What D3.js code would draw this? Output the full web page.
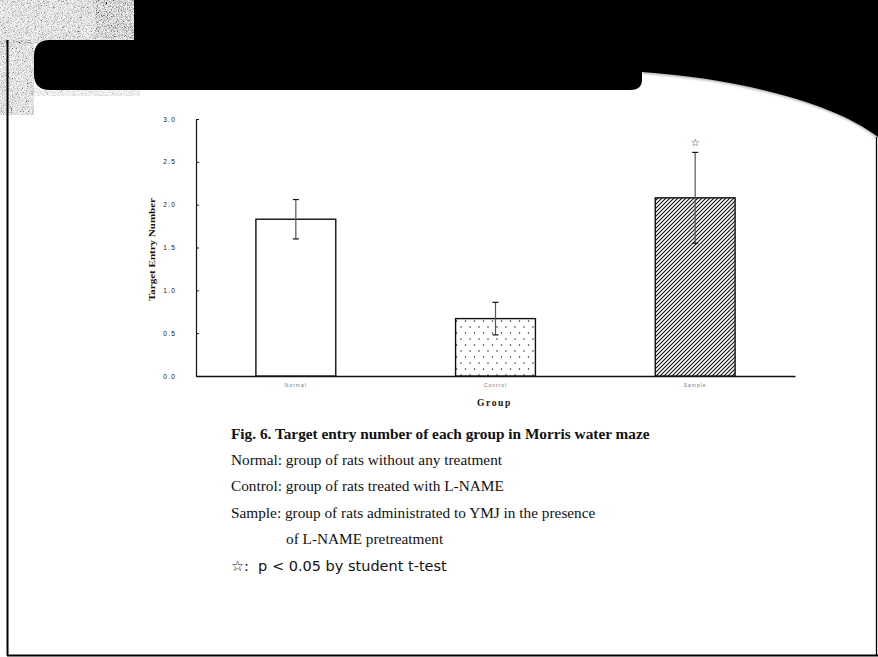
<!DOCTYPE html>
<html>
<head>
<meta charset="utf-8">
<script src="https://cdn.jsdelivr.net/npm/d3@7"></script>
<style>
  html, body { margin: 0; padding: 0; background: #fff; }
  svg { display: block; }
</style>
</head>
<body>
<svg id="chart" width="878" height="657"></svg>
<script>
// Target entry number per group (Morris water maze)
const categories = ["Normal", "Control", "Sample"];
const means = [1.83, 0.67, 2.08];
const errors = [0.23, 0.19, 0.53];
const significance = ["", "", "\u2606"];
const yTicks = [0, 0.5, 1.0, 1.5, 2.0, 2.5, 3.0];
const yTickLabels = ["0.0", "0.5", "1.0", "1.5", "2.0", "2.5", "3.0"];
const fills = ["plain", "dots", "hatch"];

const captionLines = [
  "Normal: group of rats without any treatment",
  "Control: group of rats treated with L-NAME",
  "Sample: group of rats administrated to YMJ in the presence",
  "of L-NAME pretreatment"
];

const W = 878, H = 657;
const svg = d3.select("#chart");
const defs = svg.append("defs");

// grainy grey texture for the slide corner
const grain = defs.append("filter").attr("id", "grain")
  .attr("x", 0).attr("y", 0).attr("width", "100%").attr("height", "100%");
grain.append("feTurbulence").attr("type", "fractalNoise")
  .attr("baseFrequency", 1.2).attr("numOctaves", 2).attr("seed", 4).attr("result", "n");
grain.append("feColorMatrix").attr("type", "saturate").attr("values", 0).attr("in", "n").attr("result", "g");
const ct = grain.append("feComponentTransfer").attr("in", "g").attr("result", "c");
ct.append("feFuncR").attr("type", "linear").attr("slope", 2.6).attr("intercept", -0.75);
ct.append("feFuncG").attr("type", "linear").attr("slope", 2.6).attr("intercept", -0.75);
ct.append("feFuncB").attr("type", "linear").attr("slope", 2.6).attr("intercept", -0.75);
grain.append("feComposite").attr("in", "c").attr("in2", "SourceGraphic").attr("operator", "in");

const soft = defs.append("filter").attr("id", "soft");
soft.append("feGaussianBlur").attr("stdDeviation", 1.2);

// dotted fill
const dots = defs.append("pattern").attr("id", "dots")
  .attr("patternUnits", "userSpaceOnUse").attr("width", 9).attr("height", 12);
dots.append("rect").attr("width", 9).attr("height", 12).attr("fill", "#fff");
dots.append("circle").attr("cx", 2).attr("cy", 3).attr("r", 0.75).attr("fill", "#222");
dots.append("circle").attr("cx", 6.5).attr("cy", 9).attr("r", 0.75).attr("fill", "#222");

// diagonal hatch fill
const hatch = defs.append("pattern").attr("id", "hatch")
  .attr("patternUnits", "userSpaceOnUse").attr("width", 4).attr("height", 4);
hatch.append("rect").attr("width", 4).attr("height", 4).attr("fill", "#fff");
hatch.append("path").attr("d", "M-1,1 l2,-2 M0,4 l4,-4 M3,5 l2,-2")
  .attr("stroke", "#111").attr("stroke-width", 1.1);

// ---- slide background decoration ----
const deco = svg.append("g");
deco.append("rect").attr("x", 0).attr("y", 0).attr("width", 140).attr("height", 44)
  .attr("fill", "#8c8c8c").attr("filter", "url(#grain)");
deco.append("rect").attr("x", 95).attr("y", 0).attr("width", 40).attr("height", 38)
  .attr("fill", "#d8d8d8").attr("filter", "url(#grain)");
deco.append("rect").attr("x", 0).attr("y", 40).attr("width", 34).attr("height", 75)
  .attr("fill", "#a8a8a8").attr("filter", "url(#grain)");
deco.append("rect").attr("x", 30).attr("y", 88).attr("width", 110).attr("height", 8)
  .attr("fill", "#cfcfcf").attr("filter", "url(#grain)").attr("opacity", 0.6);

const curve = "M878,137 C830,100 730,78 642,72";

// soft grey fringe along the curved white edge
deco.append("path")
  .attr("d", curve)
  .attr("fill", "none").attr("stroke", "#b0b0b0").attr("stroke-width", 3)
  .attr("filter", "url(#soft)");

// black banner
deco.append("path")
  .attr("d", "M134,0 H878 V137 C830,100 730,78 642,72 V80 Q642,90 630,90 H50 Q34,90 34,74 V56 Q34,40 50,40 H134 Z")
  .attr("fill", "#000");

// frame lines
deco.append("line").attr("x1", 7.5).attr("x2", 7.5).attr("y1", 40).attr("y2", 655.5)
  .attr("stroke", "#000").attr("stroke-width", 2);
deco.append("line").attr("x1", 7).attr("x2", 878).attr("y1", 655.5).attr("y2", 655.5)
  .attr("stroke", "#000").attr("stroke-width", 2);
deco.append("line").attr("x1", 876.5).attr("x2", 876.5).attr("y1", 137).attr("y2", 655)
  .attr("stroke", "#000").attr("stroke-width", 1.3);

// ---- chart ----
const plot = { left: 196, right: 795, top: 119, bottom: 376 };

const x = d3.scaleBand()
  .domain(categories)
  .range([plot.left, plot.right])
  .paddingInner(0.6)
  .paddingOuter(0.3);

const y = d3.scaleLinear()
  .domain([0, 3])
  .range([plot.bottom, plot.top]);

const g = svg.append("g");

// y axis
const yAxis = d3.axisLeft(y)
  .tickValues(yTicks)
  .tickFormat((d, i) => yTickLabels[i])
  .tickSizeInner(-3)
  .tickSizeOuter(0)
  .tickPadding(20);
const yg = g.append("g").attr("transform", `translate(${plot.left},0)`).call(yAxis);
yg.select(".domain").attr("stroke", "#111").attr("stroke-width", 1.2);
yg.selectAll(".tick line").attr("stroke", "#111");
yg.selectAll(".tick text")
  .attr("font-family", "Liberation Sans, Arial, sans-serif")
  .attr("font-size", 6.5).attr("letter-spacing", 1.2).attr("fill", "#111");

// x axis
const xAxis = d3.axisBottom(x).tickSize(0).tickSizeOuter(0).tickPadding(7);
const xg = g.append("g").attr("transform", `translate(0,${plot.bottom})`).call(xAxis);
xg.select(".domain").attr("stroke", "#111").attr("stroke-width", 1.5);
xg.selectAll(".tick text")
  .attr("font-family", "Liberation Sans, Arial, sans-serif")
  .attr("font-size", 5).attr("letter-spacing", 1).attr("fill", "#777");

// bars
g.selectAll("rect.bar")
  .data(categories)
  .join("rect")
  .attr("class", "bar")
  .attr("x", d => x(d))
  .attr("width", x.bandwidth())
  .attr("y", (d, i) => y(means[i]))
  .attr("height", (d, i) => y(0) - y(means[i]))
  .attr("fill", (d, i) => fills[i] === "plain" ? "#fff" : `url(#${fills[i]})`)
  .attr("stroke", "#111")
  .attr("stroke-width", 1.4);

// error bars
const eb = g.selectAll("g.err")
  .data(categories)
  .join("g")
  .attr("class", "err");
eb.append("line")
  .attr("x1", d => x(d) + x.bandwidth() / 2)
  .attr("x2", d => x(d) + x.bandwidth() / 2)
  .attr("y1", (d, i) => y(means[i] + errors[i]))
  .attr("y2", (d, i) => y(means[i] - errors[i]))
  .attr("stroke", "#555").attr("stroke-width", 1.2);
[1, -1].forEach(s => {
  eb.append("line")
    .attr("x1", d => x(d) + x.bandwidth() / 2 - 3)
    .attr("x2", d => x(d) + x.bandwidth() / 2 + 3)
    .attr("y1", (d, i) => y(means[i] + s * errors[i]))
    .attr("y2", (d, i) => y(means[i] + s * errors[i]))
    .attr("stroke", "#111").attr("stroke-width", 1.2);
});

// significance markers
g.selectAll("text.sig")
  .data(categories)
  .join("text")
  .attr("class", "sig")
  .attr("x", d => x(d) + x.bandwidth() / 2)
  .attr("y", (d, i) => y(means[i] + errors[i]) - 6)
  .attr("text-anchor", "middle")
  .attr("font-family", "DejaVu Sans, sans-serif")
  .attr("font-size", 10)
  .attr("font-weight", "bold")
  .attr("fill", "#111")
  .text((d, i) => significance[i]);

// axis titles
g.append("text")
  .attr("transform", `translate(155,${(plot.top + plot.bottom) / 2 + 2}) rotate(-90)`)
  .attr("text-anchor", "middle")
  .attr("font-family", "Liberation Serif, Times New Roman, serif")
  .attr("font-weight", "bold")
  .attr("font-size", 9)
  .attr("textLength", 103)
  .attr("lengthAdjust", "spacingAndGlyphs")
  .attr("fill", "#111")
  .text("Target Entry Number");

g.append("text")
  .attr("x", (plot.left + plot.right) / 2 - 1)
  .attr("y", 406)
  .attr("text-anchor", "middle")
  .attr("font-family", "Liberation Serif, Times New Roman, serif")
  .attr("font-weight", "bold")
  .attr("font-size", 9.5)
  .attr("letter-spacing", 1.6)
  .attr("fill", "#111")
  .text("Group");

// ---- caption ----
const cap = svg.append("g").attr("font-family", "Liberation Serif, Times New Roman, serif").attr("fill", "#111");
cap.append("text")
  .attr("x", 231).attr("y", 438.5)
  .attr("font-weight", "bold").attr("font-size", 15.3)
  .text("Fig. 6. Target entry number of each group in Morris water maze");
cap.selectAll("text.line")
  .data(captionLines)
  .join("text")
  .attr("class", "line")
  .attr("x", (d, i) => i === 3 ? 286 : 231)
  .attr("y", (d, i) => 465 + i * 26.3)
  .attr("font-size", 15.3)
  .text(d => d);
svg.append("text")
  .attr("x", 231).attr("y", 571)
  .attr("font-family", "DejaVu Sans, sans-serif")
  .attr("font-size", 14.5)
  .attr("fill", "#111")
  .attr("xml:space", "preserve")
  .text("\u2606:  p < 0.05 by student t-test");
</script>
</body>
</html>
